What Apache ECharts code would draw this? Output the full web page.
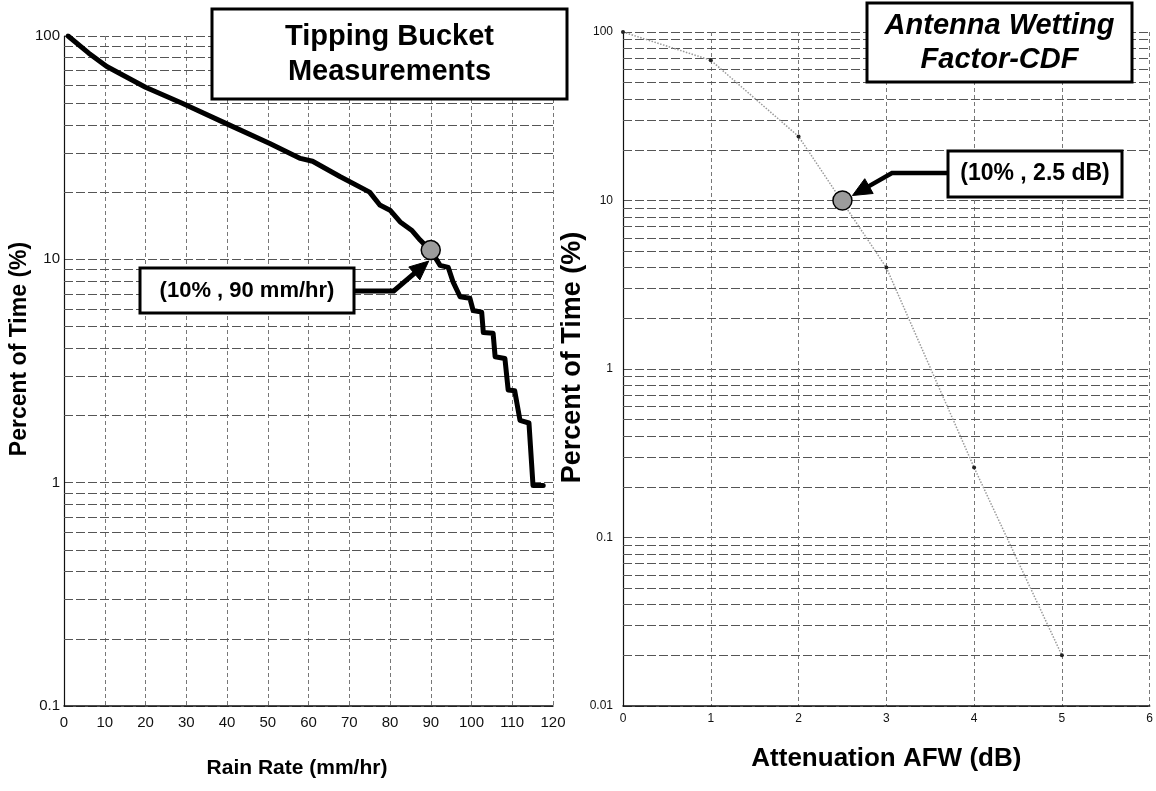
<!DOCTYPE html>
<html>
<head>
<meta charset="utf-8">
<script src="https://cdn.jsdelivr.net/npm/echarts@6/dist/echarts.min.js"></script>
<style>
html,body{margin:0;padding:0;background:#fff;}
#c{width:1156px;height:791px;}
</style>
</head>
<body>
<div id="c"></div>
<script>
// ---- Left panel: Tipping bucket rain-rate CDF ----
const rainRate = [1, 6, 10.5, 20, 29, 40.5, 50.5, 58, 61, 67.7, 75, 77.5, 80, 82.5, 85.3, 87.4, 89, 90.5,
                  92.3, 94.3, 95.5, 97.2, 99.6, 100.4, 102.5, 102.9, 105.3, 105.8, 108.2, 109, 110.6, 111.9, 114.1, 115.1, 117.6];
const rainPct  = [100, 84, 73, 59, 50, 40, 33, 28.3, 27.5, 23.5, 20, 17.5, 16.6, 14.7, 13.5, 12.2, 11.4, 10.6,
                  9.4, 9.2, 7.9, 6.8, 6.7, 5.9, 5.8, 4.7, 4.67, 3.66, 3.6, 2.6, 2.58, 1.9, 1.85, 0.97, 0.97];
const leftYLabels = ['0.1', '1', '10', '100'];
const leftMinor = [0.2,0.3,0.4,0.5,0.6,0.7,0.8,0.9, 2,3,4,5,6,7,8,9, 20,30,40,50,60,70,80,90];
const leftMarker = [90, 11];

// ---- Right panel: Antenna wetting factor CDF ----
const afwDb  = [0, 1, 2, 3, 4, 5];
const afwPct = [100, 68, 24, 4.0, 0.26, 0.02];
const rightYLabels = ['0.01', '0.1', '1', '10', '100'];
const rightMinor = [0.02,0.03,0.04,0.05,0.06,0.07,0.08,0.09, 0.2,0.3,0.4,0.5,0.6,0.7,0.8,0.9,
                    2,3,4,5,6,7,8,9, 20,30,40,50,60,70,80,90];
const rightMarker = [2.5, 10];

const FONT = '"Liberation Sans", Arial, Helvetica, sans-serif';
const gridLine = {color: '#555', width: 1, type: [9, 3]};
const vLine = {color: '#777', width: 1, type: [4, 3]};

function minorLines(vals) {
  return {
    silent: true, symbol: 'none', animation: false,
    label: {show: false},
    lineStyle: {color: '#555', width: 1, type: [9, 3]},
    emphasis: {disabled: true},
    data: vals.map(v => ({yAxis: v}))
  };
}

const chart = echarts.init(document.getElementById('c'), null, {renderer: 'canvas'});
const option = {
  animation: false,
  backgroundColor: '#fff',
  textStyle: {fontFamily: FONT},
  grid: [
    {left: 64, top: 36, width: 489, height: 670, show: false},
    {left: 623, top: 32, width: 528, height: 674, show: false}
  ],
  xAxis: [
    {
      type: 'value', gridIndex: 0, min: 0, max: 120, interval: 10,
      axisLine: {show: true, lineStyle: {color: '#111', width: 1.5}},
      axisTick: {show: false},
      axisLabel: {fontSize: 15, color: '#111', margin: 9, fontFamily: FONT},
      splitLine: {show: true, lineStyle: vLine},
      name: 'Rain Rate (mm/hr)', nameLocation: 'middle', nameGap: 52,
      nameTextStyle: {fontSize: 21, fontWeight: 'bold', color: '#000', fontFamily: FONT, padding: [0, 23, 0, 0]}
    },
    {
      type: 'value', gridIndex: 1, min: 0, max: 6, interval: 1,
      axisLine: {show: true, lineStyle: {color: '#111', width: 1.5}},
      axisTick: {show: false},
      axisLabel: {fontSize: 12, color: '#111', margin: 7, fontFamily: FONT},
      splitLine: {show: true, lineStyle: vLine},
      name: 'Attenuation AFW (dB)', nameLocation: 'middle', nameGap: 40,
      nameTextStyle: {fontSize: 26, fontWeight: 'bold', color: '#000', fontFamily: FONT}
    }
  ],
  yAxis: [
    {
      type: 'log', logBase: 10, gridIndex: 0, min: 0.1, max: 100,
      axisLine: {show: true, lineStyle: {color: '#111', width: 1.2}},
      axisTick: {show: false},
      axisLabel: {fontSize: 15, color: '#111', margin: 4, fontFamily: FONT,
                  formatter: (v, i) => leftYLabels[i] !== undefined ? leftYLabels[i] : String(v)},
      splitLine: {show: true, lineStyle: gridLine},
      minorTick: {show: false}, minorSplitLine: {show: false},
      name: 'Percent of Time (%)', nameLocation: 'middle', nameGap: 30, nameRotate: 90,
      nameTextStyle: {fontSize: 23, fontWeight: 'bold', color: '#000', fontFamily: FONT, padding: [0, 0, 0, 44]}
    },
    {
      type: 'log', logBase: 10, gridIndex: 1, min: 0.01, max: 100,
      axisLine: {show: true, lineStyle: {color: '#111', width: 1.2}},
      axisTick: {show: false},
      axisLabel: {fontSize: 12, color: '#111', margin: 10, fontFamily: FONT,
                  formatter: (v, i) => rightYLabels[i] !== undefined ? rightYLabels[i] : String(v)},
      splitLine: {show: true, lineStyle: gridLine},
      minorTick: {show: false}, minorSplitLine: {show: false},
      name: 'Percent of Time (%)', nameLocation: 'middle', nameGap: 31, nameRotate: 90,
      nameTextStyle: {fontSize: 27, fontWeight: 'bold', color: '#000', fontFamily: FONT, padding: [0, 0, 0, 23]}
    }
  ],
  series: [
    {
      type: 'line', xAxisIndex: 0, yAxisIndex: 0, data: [], z: 1, silent: true,
      markLine: minorLines(leftMinor)
    },
    {
      type: 'line', xAxisIndex: 0, yAxisIndex: 0, z: 5,
      data: rainRate.map((x, i) => [x, rainPct[i]]),
      showSymbol: false, symbol: 'none',
      lineStyle: {color: '#000', width: 5, join: 'round', cap: 'round'}
    },
    {
      type: 'scatter', xAxisIndex: 0, yAxisIndex: 0, z: 8,
      data: [leftMarker], symbolSize: 19,
      itemStyle: {color: '#9c9c9c', borderColor: '#000', borderWidth: 1.5, opacity: 1}
    },
    {
      type: 'line', xAxisIndex: 1, yAxisIndex: 1, data: [], z: 1, silent: true,
      markLine: minorLines(rightMinor)
    },
    {
      type: 'line', xAxisIndex: 1, yAxisIndex: 1, z: 5,
      data: afwDb.map((x, i) => [x, afwPct[i]]),
      showSymbol: true, symbol: 'circle', symbolSize: 4,
      itemStyle: {color: '#222'},
      lineStyle: {color: '#999', width: 1.5, type: 'dotted'}
    },
    {
      type: 'scatter', xAxisIndex: 1, yAxisIndex: 1, z: 8,
      data: [rightMarker], symbolSize: 19,
      itemStyle: {color: '#9c9c9c', borderColor: '#000', borderWidth: 1.5, opacity: 1}
    }
  ]
};
chart.setOption(option);

// ---- Annotations (boxes, arrows) ----
const c1 = chart.convertToPixel({seriesIndex: 2}, leftMarker);
const c2 = chart.convertToPixel({seriesIndex: 5}, rightMarker);

function arrow(start, elbow, tip, w) {
  const dx = tip[0] - elbow[0], dy = tip[1] - elbow[1];
  const len = Math.sqrt(dx * dx + dy * dy);
  const ux = dx / len, uy = dy / len, nx = -uy, ny = ux;
  const L = 19, W = 8.5;
  const bx = tip[0] - ux * L, by = tip[1] - uy * L;
  return [
    {type: 'polyline', z: 120, shape: {points: [start, elbow, [bx + ux * 2, by + uy * 2]]},
     style: {stroke: '#000', lineWidth: w, fill: null, lineJoin: 'miter'}},
    {type: 'polygon', z: 121, shape: {points: [tip, [bx + nx * W, by + ny * W], [bx - nx * W, by - ny * W]]},
     style: {fill: '#000', stroke: '#000', lineWidth: 1}}
  ];
}

function box(x, y, w, h, text, font, lh) {
  return [
    {type: 'rect', z: 110, shape: {x: x, y: y, width: w, height: h},
     style: {fill: '#fff', stroke: '#000', lineWidth: 3}},
    {type: 'text', z: 111, x: x + w / 2, y: y + h / 2,
     style: {text: text, font: font, fill: '#000', align: 'center', verticalAlign: 'middle', lineHeight: lh}}
  ];
}

const graphics = [].concat(
  box(212, 9, 355, 90, 'Tipping Bucket\nMeasurements', 'bold 29px ' + FONT, 35),
  box(867, 3, 265, 79, 'Antenna Wetting\nFactor-CDF', 'italic bold 29px ' + FONT, 34),
  box(140, 268, 214, 45, '(10% , 90 mm/hr)', 'bold 22px ' + FONT, 26),
  box(948, 151, 174, 46, '(10% , 2.5 dB)', 'bold 23px ' + FONT, 26),
  arrow([355, 291], [c1[0] - 37, 291], [c1[0] - 2, c1[1] + 11], 5),
  arrow([947, 173], [892, 173], [c2[0] + 10, c2[1] - 5], 4.5)
);
chart.setOption({graphic: graphics});
</script>
</body>
</html>
